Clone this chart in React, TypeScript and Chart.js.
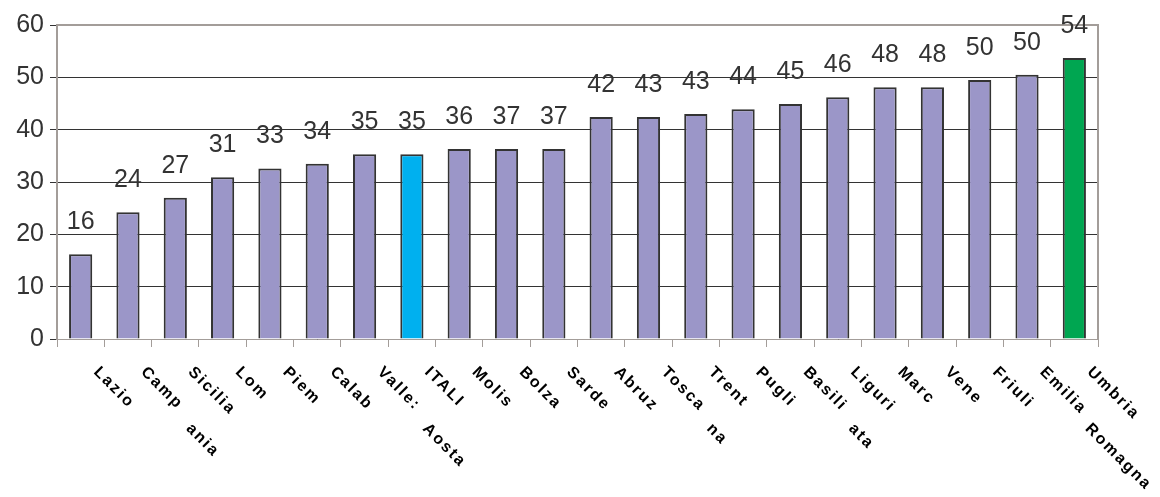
import React, { useEffect, useRef } from "react";
import { Chart, registerables } from "chart.js";

Chart.register(...registerables);

const labelLine1 = ["Lazio", "Camp", "Sicilia", "Lom", "Piem", "Calab", "Valle:", "ITALI", "Molis", "Bolza", "Sarde", "Abruz", "Tosca", "Trent", "Pugli", "Basili", "Liguri", "Marc", "Vene", "Friuli", "Emilia", "Umbria"];
const labelLine2 = ["", "ania", "", "", "", "", "Aosta", "", "", "", "", "", "na", "", "", "ata", "", "", "", "", "Romagna", ""];
const barValues = [16.2, 24.2, 27.0, 30.9, 32.6, 33.5, 35.3, 35.3, 36.3, 36.3, 36.3, 42.4, 42.4, 43.0, 43.9, 44.9, 46.2, 48.1, 48.1, 49.5, 50.5, 53.7];
const valueLabels = ["16", "24", "27", "31", "33", "34", "35", "35", "36", "37", "37", "42", "43", "43", "44", "45", "46", "48", "48", "50", "50", "54"];
const barColors = ["#9b96c8", "#9b96c8", "#9b96c8", "#9b96c8", "#9b96c8", "#9b96c8", "#9b96c8", "#00b0ef", "#9b96c8", "#9b96c8", "#9b96c8", "#9b96c8", "#9b96c8", "#9b96c8", "#9b96c8", "#9b96c8", "#9b96c8", "#9b96c8", "#9b96c8", "#9b96c8", "#9b96c8", "#00a651"];
const yTicks = [0, 10, 20, 30, 40, 50, 60];

const FONT = "Arial, 'Liberation Sans', sans-serif";
const BORDER_GREY = "#a39d99";

export default function App() {
  const ref = useRef<HTMLCanvasElement | null>(null);

  useEffect(() => {
    document.body.style.margin = "0";
    const canvas = ref.current;
    if (!canvas) return;

    const framePlugin = {
      id: "frame",
      beforeDatasetsDraw(chart: any) {
        const { ctx, chartArea } = chart;
        ctx.save();
        ctx.strokeStyle = BORDER_GREY;
        ctx.lineWidth = 2;
        ctx.beginPath();
        ctx.moveTo(chartArea.left, chartArea.top);
        ctx.lineTo(chartArea.right, chartArea.top);
        ctx.lineTo(chartArea.right, chartArea.bottom);
        ctx.stroke();
        ctx.restore();
      },
    };

    const valueLabelPlugin = {
      id: "valueLabels",
      afterDatasetsDraw(chart: any) {
        const { ctx } = chart;
        const meta = chart.getDatasetMeta(0);
        ctx.save();
        ctx.font = `25px ${FONT}`;
        ctx.fillStyle = "#333333";
        ctx.textAlign = "center";
        ctx.textBaseline = "alphabetic";
        meta.data.forEach((bar: any, i: number) => {
          ctx.fillText(valueLabels[i], bar.x, bar.y - 25);
        });
        ctx.restore();
      },
    };

    const xLabelPlugin = {
      id: "xLabels",
      afterDraw(chart: any) {
        const { ctx, chartArea } = chart;
        const xScale = chart.scales.x;
        ctx.save();
        ctx.font = `bold 16px ${FONT}`;
        ctx.fillStyle = "#000000";
        ctx.textAlign = "left";
        ctx.textBaseline = "top";
        try { (ctx as any).letterSpacing = "2px"; } catch (e) {}
        labelLine1.forEach((t, i) => {
          const x = xScale.getPixelForValue(i) + 21;
          const y = chartArea.bottom + 25;
          ctx.save();
          ctx.translate(x, y);
          ctx.rotate(Math.PI / 4);
          ctx.fillText(t, 0, 0);
          if (labelLine2[i]) ctx.fillText(labelLine2[i], 72, 8);
          ctx.restore();
        });
        ctx.restore();
      },
    };

    const chart = new Chart(canvas, {
      type: "bar",
      data: {
        labels: labelLine1.map((t, i) => t + (labelLine2[i] ? " " + labelLine2[i] : "")),
        datasets: [
          {
            data: barValues,
            backgroundColor: barColors,
            borderColor: "#333333",
            borderWidth: 2,
            borderSkipped: "bottom",
            barPercentage: 0.49,
            categoryPercentage: 1,
          },
        ],
      },
      options: {
        animation: false,
        responsive: false,
        maintainAspectRatio: false,
        layout: { padding: { top: 25, right: 62, left: 0, bottom: 0 } },
        plugins: {
          legend: { display: false },
          tooltip: { enabled: false },
        },
        scales: {
          x: {
            grid: {
              display: true,
              offset: true,
              drawOnChartArea: false,
              drawTicks: true,
              tickLength: 8,
              color: BORDER_GREY,
              lineWidth: 1,
            },
            border: { display: true, color: BORDER_GREY, width: 1 },
            ticks: { display: true, callback: () => "", maxRotation: 0, minRotation: 0 },
            afterFit: (scale: any) => {
              scale.height = 158;
            },
          },
          y: {
            min: 0,
            max: 60,
            afterBuildTicks: (scale: any) => {
              scale.ticks = yTicks.map((v) => ({ value: v }));
            },
            grid: {
              color: "#333333",
              lineWidth: 1,
              drawTicks: true,
              tickLength: 7,
            },
            border: { display: true, color: BORDER_GREY, width: 2 },
            ticks: {
              font: { family: FONT, size: 25 },
              color: "#333333",
              padding: 6,
            },
            afterFit: (scale: any) => {
              scale.width = 57;
            },
          },
        },
      },
      plugins: [framePlugin, valueLabelPlugin, xLabelPlugin],
    });

    return () => chart.destroy();
  }, []);

  return (
    <div style={{ position: "absolute", left: 0, top: 0, width: 1160, height: 497 }}>
      <canvas ref={ref} width={1160} height={497} />
    </div>
  );
}
